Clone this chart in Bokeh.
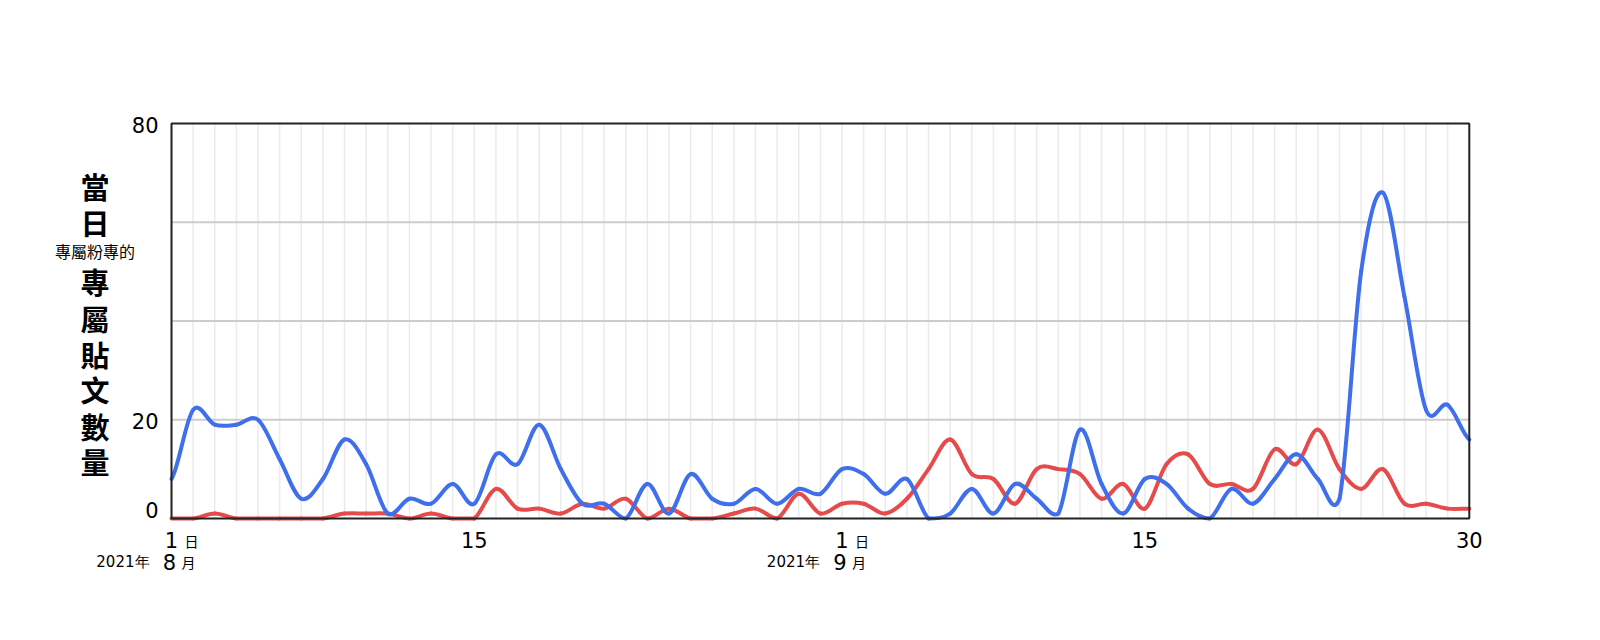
import pandas as pd
from bokeh.plotting import figure
from bokeh.models import Range1d
from bokeh.core.properties import value
from bokeh.embed import file_html
from bokeh.resources import INLINE

# ---------------- data ----------------
dates = [d.strftime("%Y-%m-%d") for d in pd.date_range("2021-08-01", "2021-09-30")]

blue_posts = [8, 22, 19, 19, 20, 12, 4, 8, 16, 11,
              1, 4, 3, 7, 3, 13, 11, 19, 10, 3,
              3, 0, 7, 1, 9, 4, 3, 6, 3, 6,
              5, 10, 9, 5, 8, 0, 1, 6, 1, 7,
              4, 1, 18, 7, 1, 8, 7, 2, 0, 6,
              3, 8, 13, 8, 4, 50, 66, 45, 22, 23,
              16]

red_posts = [0, 0, 1, 0, 0, 0, 0, 0, 1, 1,
             1, 0, 1, 0, 0, 6, 2, 2, 1, 3,
             2, 4, 0, 2, 0, 0, 1, 2, 0, 5,
             1, 3, 3, 1, 4, 10, 16, 9, 8, 3,
             10, 10, 9, 4, 7, 2, 11, 13, 7, 7,
             6, 14, 11, 18, 10, 6, 10, 3, 3, 2,
             2]

y_min, y_max = 0, 80
y_tick_values = [0, 20, 80]
y_grid_values = [20, 40, 60]
x_tick_dates = ["2021-08-01", "2021-08-15", "2021-09-01", "2021-09-15", "2021-09-30"]
x_tick_day_text = ["1", "15", "1", "15", "30"]
x_tick_day_suffix = ["日", "", "日", "", ""]
x_tick_month_text = ["8", "", "9", "", ""]
x_tick_year_text = ["2021年", "", "2021年", "", ""]
y_title_top = ["當", "日"]
y_title_small = "專屬粉專的"
y_title_bottom = ["專", "屬", "貼", "文", "數", "量"]

BLUE = "#3F6FEB"
RED = "#E64B4B"
NUM_FONT = "DejaVu Sans"
CJK_FONT = "Noto Sans CJK TC"

# ---------------- layout (figure pixels) ----------------
W, H = 1584, 624
PL, PT = 171.0, 123.0           # plot area left / top in figure pixels
PW, PH = 1297.8, 395.0          # plot area width / height
n = len(dates)
DX = PW / (n - 1)               # pixels per day
DY = PH / (y_max - y_min)       # pixels per unit

x_range = Range1d(-PL / DX, (W - PL) / DX)
y_range = Range1d(y_min - (H - PT - PH) / DY, y_max + PT / DY)

p = figure(width=W, height=H, output_backend="svg", toolbar_location=None,
           x_range=x_range, y_range=y_range,
           min_border=0, min_border_left=0, min_border_right=0,
           min_border_top=0, min_border_bottom=0)
p.axis.visible = False
p.grid.visible = False
p.outline_line_color = None
p.background_fill_color = "white"
p.border_fill_color = "white"

# grid lines
day_idx = list(range(n))
p.segment(x0=day_idx, y0=[y_min] * n, x1=day_idx, y1=[y_max] * n,
          line_color="#EBEBEB", line_width=1.5)
p.segment(x0=[0] * len(y_grid_values), y0=y_grid_values,
          x1=[n - 1] * len(y_grid_values), y1=y_grid_values,
          line_color="#CCCCCC", line_width=2)


def bezier_cols(vals):
    ext = [vals[0]] + list(vals) + [vals[-1]]
    cols = {k: [] for k in ["x0", "y0", "x1", "y1", "cx0", "cy0", "cx1", "cy1"]}
    for i in range(len(vals) - 1):
        q0, q1, q2, q3 = ext[i], ext[i + 1], ext[i + 2], ext[i + 3]
        cols["x0"].append(i); cols["y0"].append(q1)
        cols["x1"].append(i + 1); cols["y1"].append(q2)
        cols["cx0"].append(i + 1 / 3); cols["cy0"].append(max(y_min, q1 + (q2 - q0) / 6))
        cols["cx1"].append(i + 2 / 3); cols["cy1"].append(max(y_min, q2 - (q3 - q1) / 6))
    return cols


for vals, col in [(red_posts, RED), (blue_posts, BLUE)]:
    c = bezier_cols(vals)
    p.bezier(x0=c["x0"], y0=c["y0"], x1=c["x1"], y1=c["y1"],
             cx0=c["cx0"], cy0=c["cy0"], cx1=c["cx1"], cy1=c["cy1"],
             line_color=col, line_width=4, line_cap="round")

# plot frame
p.quad(left=[0], right=[n - 1], bottom=[y_min], top=[y_max],
       fill_color=None, line_color="#222222", line_width=2)

# ---------------- text ----------------
def fx(X):
    return (X - PL) / DX


def fy(Y):
    return y_max - (Y - PT) / DY


def txt(xs, ys, texts, size, align="center", font=NUM_FONT, xoff=0, style="normal"):
    p.text(x=xs, y=ys, text=texts, x_offset=xoff,
           text_font=value(font), text_font_size=value(f"{size}px"),
           text_font_style=style,
           text_color="#000000", text_align=align, text_baseline="middle")


# y tick labels
y_label_pos = {0: 509, 20: 420, 80: 124}
txt([fx(158)] * len(y_tick_values), [fy(y_label_pos[v]) for v in y_tick_values],
    [str(v) for v in y_tick_values], 21, align="right")

# x tick labels
for d, day, suf, mon, yr in zip(x_tick_dates, x_tick_day_text, x_tick_day_suffix,
                                x_tick_month_text, x_tick_year_text):
    xi = dates.index(d)
    txt([xi], [fy(539)], [day], 21)
    if suf:
        txt([xi], [fy(540)], [suf], 14, font=CJK_FONT, xoff=20)
    if mon:
        txt([xi], [fy(561)], [mon], 21, xoff=-2)
        txt([xi], [fy(561)], ["月"], 14, font=CJK_FONT, xoff=17)
        txt([xi], [fy(561)], [yr], 15, align="right", xoff=-22)

# y axis title (stacked vertical)
tx = fx(94.5)
txt([tx] * len(y_title_top), [fy(Y) for Y in [185, 221]], y_title_top, 29,
    font=CJK_FONT, style="bold")
txt([tx], [fy(250)], [y_title_small], 16, font=CJK_FONT)
txt([tx] * len(y_title_bottom), [fy(Y) for Y in [280, 317, 353, 388, 425, 460]],
    y_title_bottom, 29, font=CJK_FONT, style="bold")

open("out.html", "w").write(file_html(p, INLINE))
